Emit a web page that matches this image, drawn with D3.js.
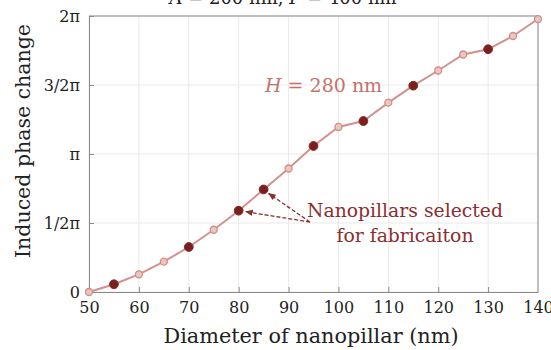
<!DOCTYPE html>
<html>
<head>
<meta charset="utf-8">
<script src="https://cdn.jsdelivr.net/npm/d3@7"></script>
<style>
  html, body { margin: 0; padding: 0; background: #fff; }
  svg { display: block; }
  text { font-family: "DejaVu Serif", "Liberation Serif", serif; }
</style>
</head>
<body>
<svg id="chart" width="551" height="350"></svg>
<script>
// Nanopillar diameter (nm) and induced phase change (in units of π)
const diameters = [50, 55, 60, 65, 70, 75, 80, 85, 90, 95, 100, 105, 110, 115, 120, 125, 130, 135, 140];
const phaseOverPi = [0.0, 0.056, 0.128, 0.220, 0.326, 0.451, 0.589, 0.743, 0.895, 1.058, 1.196, 1.239, 1.372, 1.495, 1.605, 1.721, 1.759, 1.855, 1.978];
// Diameters chosen for fabrication
const selectedDiameters = [55, 70, 80, 85, 95, 105, 115, 130];

const xTicks = [50, 60, 70, 80, 90, 100, 110, 120, 130, 140];
const yTicks = [0, 0.5, 1, 1.5, 2];
const yTickLabels = ["0", "1/2\u03C0", "\u03C0", "3/2\u03C0", "2\u03C0"];

const svg = d3.select("#chart");
const margin = { left: 89, right: 13, top: 16, bottom: 58 };
const W = 551, H = 350;
const serif = "'DejaVu Serif', serif";

const x = d3.scaleLinear().domain([50, 140]).range([margin.left, W - margin.right]);
const y = d3.scaleLinear().domain([0, 2]).range([H - margin.bottom, margin.top]);

// grid
const grid = svg.append("g");
grid.selectAll("line.gx").data(xTicks).join("line")
  .attr("x1", d => x(d)).attr("x2", d => x(d))
  .attr("y1", y(0)).attr("y2", y(2))
  .attr("stroke", "#e9e9e9").attr("stroke-width", 1);
grid.selectAll("line.gy").data(yTicks).join("line")
  .attr("y1", d => y(d)).attr("y2", d => y(d))
  .attr("x1", x(50)).attr("x2", x(140))
  .attr("stroke", "#e9e9e9").attr("stroke-width", 1);

// axes with inward ticks
const xAxis = d3.axisBottom(x).tickValues(xTicks).tickSizeInner(-5).tickSizeOuter(0).tickPadding(10);
const yAxis = d3.axisLeft(y).tickValues(yTicks).tickFormat((d, i) => yTickLabels[i]).tickSizeInner(-5).tickSizeOuter(0).tickPadding(9);

const gx = svg.append("g").attr("transform", `translate(0,${y(0)})`).call(xAxis);
const gy = svg.append("g").attr("transform", `translate(${x(50)},0)`).call(yAxis);
[gx, gy].forEach(g => {
  g.select(".domain").attr("stroke", "#8a8a8a");
  g.selectAll(".tick line").attr("stroke", "#8a8a8a");
  g.selectAll(".tick text").attr("fill", "#222").attr("font-size", 16)
    .style("font-family", serif);
});
// top and right frame
svg.append("line").attr("x1", x(50)).attr("x2", x(140)).attr("y1", y(2)).attr("y2", y(2)).attr("stroke", "#8a8a8a");
svg.append("line").attr("x1", x(140)).attr("x2", x(140)).attr("y1", y(0)).attr("y2", y(2)).attr("stroke", "#8a8a8a");
gx.selectAll(".tick").filter(d => d === 140 || d === 50).select("line").remove();

// axis titles
svg.append("text").attr("x", 311).attr("y", 343).attr("text-anchor", "middle")
  .attr("font-size", 20.8).attr("fill", "#222").text("Diameter of nanopillar (nm)");
svg.append("text").attr("transform", "translate(30,141) rotate(-90)")
  .attr("text-anchor", "middle").attr("font-size", 20.5).attr("fill", "#222").text("Induced phase change");

// header (clipped by page top)
const head = svg.append("text").attr("x", 283).attr("y", 4).attr("text-anchor", "middle")
  .attr("font-size", 18).attr("fill", "#222");
head.append("tspan").attr("font-style", "italic").text("\u039B");
head.append("tspan").text(" = 200 nm, ");
head.append("tspan").attr("font-style", "italic").text("P");
head.append("tspan").text(" = 400 nm");

// curve
const pts = diameters.map((d, i) => ({ d, v: phaseOverPi[i], sel: selectedDiameters.includes(d) }));
svg.append("path").datum(pts)
  .attr("fill", "none").attr("stroke", "#d4918b").attr("stroke-width", 2)
  .attr("d", d3.line().x(p => x(p.d)).y(p => y(p.v)));

svg.selectAll("circle.light").data(pts.filter(p => !p.sel)).join("circle")
  .attr("cx", p => x(p.d)).attr("cy", p => y(p.v)).attr("r", 3.5)
  .attr("fill", "#ecc4c0").attr("stroke", "#d08d87").attr("stroke-width", 1.3);
svg.selectAll("circle.dark").data(pts.filter(p => p.sel)).join("circle")
  .attr("cx", p => x(p.d)).attr("cy", p => y(p.v)).attr("r", 4.4)
  .attr("fill", "#7b1e1e").attr("stroke", "#8a2a2a").attr("stroke-width", 1);

// label of the curve
const lab = svg.append("text").attr("x", 265).attr("y", 92).attr("font-size", 19).attr("fill", "#c4736c");
lab.append("tspan").attr("font-style", "italic").text("H");
lab.append("tspan").text(" = 280 nm");

// annotation
const annColor = "#8b2e2e";
svg.append("defs").append("marker").attr("id", "ah")
  .attr("viewBox", "0 0 10 10").attr("refX", 9).attr("refY", 5)
  .attr("markerWidth", 6).attr("markerHeight", 6).attr("orient", "auto")
  .append("path").attr("d", "M0,1 L10,5 L0,9 z").attr("fill", annColor);
const tail = [310, 222];
const sel80 = pts.find(p => p.d === 80), sel85 = pts.find(p => p.d === 85);
[[x(sel85.d) + 5, y(sel85.v) + 4], [x(sel80.d) + 7, y(sel80.v) + 1]].forEach(t => {
  svg.append("line").attr("x1", tail[0]).attr("y1", tail[1]).attr("x2", t[0]).attr("y2", t[1])
    .attr("stroke", annColor).attr("stroke-width", 1.3).attr("stroke-dasharray", "4,2")
    .attr("marker-end", "url(#ah)");
});
svg.append("text").attr("x", 405).attr("y", 217).attr("text-anchor", "middle")
  .attr("font-size", 18.8).attr("fill", annColor).text("Nanopillars selected");
svg.append("text").attr("x", 405).attr("y", 242).attr("text-anchor", "middle")
  .attr("font-size", 18.8).attr("fill", annColor).text("for fabricaiton");
</script>
</body>
</html>
